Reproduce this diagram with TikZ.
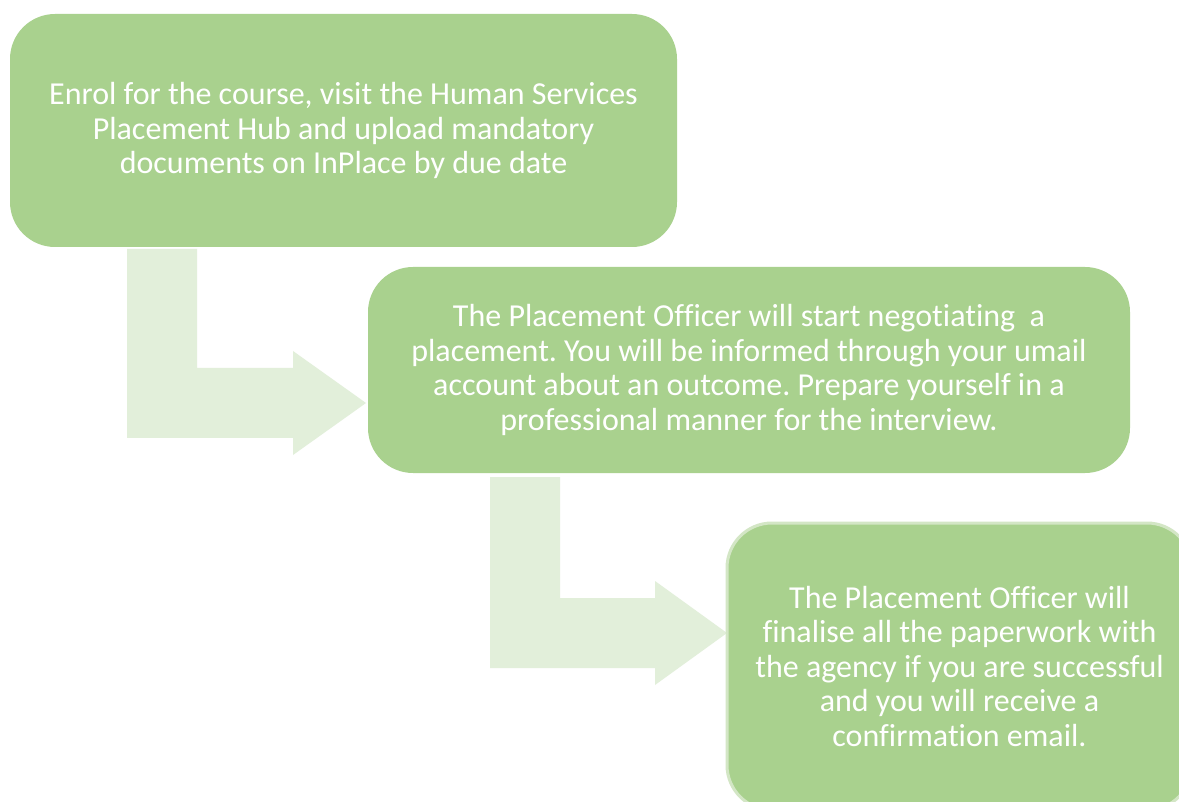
\documentclass[tikz,border=0pt]{standalone}
\usepackage{fontspec}
\setmainfont{Carlito}[Ligatures=NoCommon]
\usetikzlibrary{backgrounds}
\definecolor{boxgreen}{HTML}{A9D18E}
\definecolor{arrowgreen}{HTML}{E2EFDA}
\definecolor{edgegreen}{HTML}{D3E6C5}
\tikzset{
  stepbox/.style={rectangle, rounded corners=45pt, fill=boxgreen, draw=none,
    text=white, align=center, inner sep=0pt, anchor=center,
    font=\fontsize{32}{34.5}\selectfont\frenchspacing},
  bentarrow/.style={fill=arrowgreen, draw=none}
}
\begin{document}
\begin{tikzpicture}[x=1pt,y=-1pt]
\useasboundingbox (0,0) rectangle (1179,802);
\fill[white] (0,0) rectangle (1179,802);
% bent arrows
\fill[bentarrow] (127,249) -- (197,249) -- (197,368) -- (293,368) -- (293,351) -- (366,403) -- (293,455) -- (293,438) -- (127,438) -- cycle;
\fill[bentarrow] (490,477) -- (560,477) -- (560,598) -- (655,598) -- (655,581) -- (727,633) -- (655,685) -- (655,668) -- (490,668) -- cycle;
% boxes
\node[stepbox, minimum width=667pt, minimum height=233pt] (b1) at (343.5,130.5)
  {Enrol for the course, visit the Human Services\\Placement Hub and upload mandatory\\documents on InPlace by due date};
\node[stepbox, minimum width=762pt, minimum height=206pt] (b2) at (749,370)
  {The Placement Officer will start negotiating\ \ a\\placement. You will be informed through your umail\\account about an outcome. Prepare yourself in a\\professional manner for the interview.};
\node[stepbox, draw=edgegreen, line width=3pt, minimum width=465pt, minimum height=287pt] (b3) at (959.5,666.5)
  {The Placement Officer will\\finalise all the paperwork with\\the agency if you are successful\\and you will receive a\\confirmation email.};
\end{tikzpicture}
\end{document}
